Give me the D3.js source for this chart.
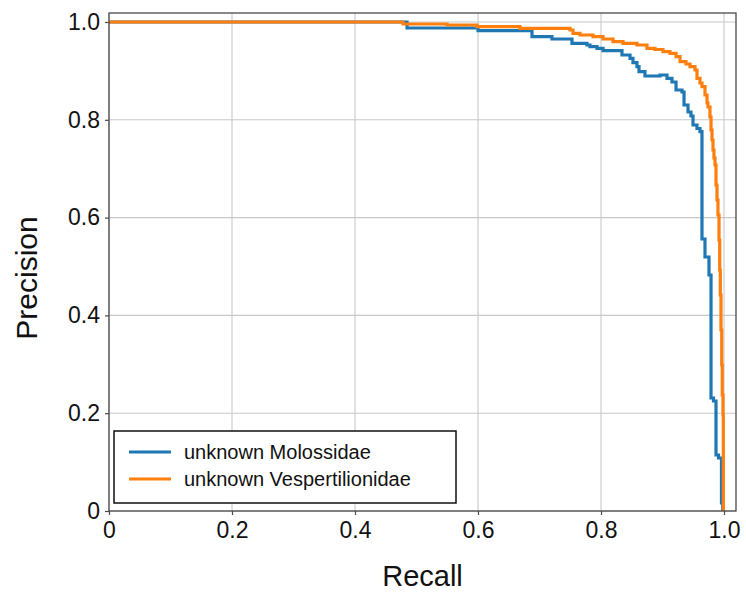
<!DOCTYPE html>
<html>
<head>
<meta charset="utf-8">
<script src="https://cdn.jsdelivr.net/npm/d3@7"></script>
<style>
  html, body { margin: 0; padding: 0; background: #fff; }
  svg { display: block; }
  text { font-family: "Liberation Sans", Arial, sans-serif; fill: #111; }
</style>
</head>
<body>
<div id="chart"></div>
<script>
// ---- Data ----
const seriesNames = ["unknown Molossidae", "unknown Vespertilionidae"];
const seriesColors = ["#1f77b4", "#ff7f0e"];

// step-after points: precision holds until the next recall value
const molossidaeRecall = [0, 0.4846, 0.6, 0.6878, 0.7203, 0.7528, 0.7772, 0.7821, 0.7935, 0.8033,
  0.8341, 0.8472, 0.8520, 0.8585, 0.8618, 0.8715, 0.8959, 0.9073, 0.9154, 0.9220, 0.9317, 0.9350,
  0.9415, 0.9463, 0.9496, 0.9561, 0.9610, 0.9642, 0.9691, 0.9756, 0.9789, 0.9829, 0.9870, 0.9911,
  0.9959, 0.9979];
const molossidaePrecision = [1.0, 0.9877, 0.9822, 0.9699, 0.9652, 0.9564, 0.9530, 0.9495, 0.9462, 0.9413,
  0.9325, 0.9258, 0.9168, 0.9086, 0.8984, 0.8896, 0.8916, 0.8849, 0.8773, 0.8609, 0.8569, 0.8303,
  0.8160, 0.8078, 0.7894, 0.7822, 0.7757, 0.5562, 0.5194, 0.4826, 0.2311, 0.2249, 0.1145, 0.1084,
  0.0164, 0.0];

const vespRecall = [0, 0.4780, 0.5496, 0.5984, 0.6683, 0.7496, 0.7545, 0.7659, 0.7870, 0.8033,
  0.8195, 0.8358, 0.8585, 0.8748, 0.8878, 0.9008, 0.9122, 0.9220, 0.9285, 0.9382, 0.9447, 0.9528,
  0.9561, 0.9610, 0.9642, 0.9691, 0.9724, 0.9740, 0.9772, 0.9789, 0.9805, 0.9821, 0.9837, 0.9854,
  0.9870, 0.9886, 0.9902, 0.9919, 0.9930, 0.9940, 0.9951, 0.9963, 0.9972, 0.9984, 0.9989];
const vespPrecision = [1.0, 0.9959, 0.9939, 0.9904, 0.9871, 0.9836, 0.9769, 0.9734, 0.9699, 0.9652,
  0.9597, 0.9564, 0.9530, 0.9462, 0.9438, 0.9393, 0.9360, 0.9290, 0.9188, 0.9141, 0.9086, 0.9018,
  0.8849, 0.8753, 0.8677, 0.8507, 0.8344, 0.8262, 0.8057, 0.7791, 0.7587, 0.7382, 0.7219, 0.7076,
  0.6667, 0.6360, 0.6053, 0.5542, 0.4928, 0.4417, 0.3701, 0.2986, 0.2372, 0.1963, 0.0];

const xTicks = [0, 0.2, 0.4, 0.6, 0.8, 1.0];
const xTickLabels = ["0", "0.2", "0.4", "0.6", "0.8", "1.0"];
const yTicks = [0, 0.2, 0.4, 0.6, 0.8, 1.0];
const yTickLabels = ["0", "0.2", "0.4", "0.6", "0.8", "1.0"];
const xLabel = "Recall";
const yLabel = "Precision";

// ---- Layout ----
const W = 746, H = 592;
const left = 109, bottom = 511;
const unitX = 615, unitY = 489;
const xMax = 1.0195, yMax = 1.0184;

const svg = d3.select("#chart").append("svg").attr("width", W).attr("height", H);

const x = d3.scaleLinear().domain([0, xMax]).range([left, left + unitX * xMax]);
const y = d3.scaleLinear().domain([0, yMax]).range([bottom, bottom - unitY * yMax]);

const [x0, x1] = x.range();
const [y0, y1] = y.range();

// grid
const grid = svg.append("g");
grid.selectAll(".gx").data(xTicks).join("line")
  .attr("x1", d => x(d)).attr("x2", d => x(d))
  .attr("y1", y0).attr("y2", y1)
  .attr("stroke", "#c8c8c8").attr("stroke-width", 1.1);
grid.selectAll(".gy").data(yTicks).join("line")
  .attr("x1", x0).attr("x2", x1)
  .attr("y1", d => y(d)).attr("y2", d => y(d))
  .attr("stroke", "#c8c8c8").attr("stroke-width", 1.1);

// series
const series = [
  { r: molossidaeRecall, p: molossidaePrecision },
  { r: vespRecall, p: vespPrecision }
];
const line = d3.line().x(d => x(d[0])).y(d => y(d[1])).curve(d3.curveStepAfter);
svg.append("clipPath").attr("id", "clip").append("rect")
  .attr("x", x0).attr("y", y1).attr("width", x1 - x0).attr("height", y0 - y1 + 2);
series.forEach((s, i) => {
  const pts = s.r.map((r, j) => [r, s.p[j]]);
  svg.append("path").datum(pts)
    .attr("d", line)
    .attr("fill", "none")
    .attr("stroke", seriesColors[i])
    .attr("stroke-width", 3.2)
    .attr("stroke-linejoin", "miter")
    .attr("clip-path", "url(#clip)");
});

// spines
svg.append("rect").attr("x", x0).attr("y", y1).attr("width", x1 - x0).attr("height", y0 - y1)
  .attr("fill", "none").attr("stroke", "#4a4a4a").attr("stroke-width", 1.3);

// axes
const xAxis = d3.axisBottom(x).tickValues(xTicks).tickFormat((d, i) => xTickLabels[i])
  .tickSizeInner(4).tickSizeOuter(0).tickPadding(7);
const gx = svg.append("g").attr("transform", `translate(0,${y0})`).call(xAxis);
gx.select(".domain").remove();
gx.selectAll("line").attr("stroke", "#4a4a4a").attr("stroke-width", 1.2);
gx.selectAll("text").attr("font-size", 23).attr("fill", "#111")
  .attr("font-family", "'Liberation Sans', Arial, sans-serif");

const yAxis = d3.axisLeft(y).tickValues(yTicks).tickFormat((d, i) => yTickLabels[i])
  .tickSizeInner(4).tickSizeOuter(0).tickPadding(5);
const gy = svg.append("g").attr("transform", `translate(${x0},0)`).call(yAxis);
gy.select(".domain").remove();
gy.selectAll("line").attr("stroke", "#4a4a4a").attr("stroke-width", 1.2);
gy.selectAll("text").attr("font-size", 23).attr("fill", "#111")
  .attr("font-family", "'Liberation Sans', Arial, sans-serif");

// axis labels
svg.append("text").attr("x", (x0 + x1) / 2).attr("y", 586)
  .attr("text-anchor", "middle").attr("font-size", 29).text(xLabel);
svg.append("text").attr("transform", `translate(37,${(y0 + y1) / 2 + 16}) rotate(-90)`)
  .attr("text-anchor", "middle").attr("font-size", 30).text(yLabel);

// legend
const lg = svg.append("g");
lg.append("rect").attr("x", 114).attr("y", 431).attr("width", 342).attr("height", 72)
  .attr("fill", "#fff").attr("stroke", "#111").attr("stroke-width", 1.5);
seriesNames.forEach((name, i) => {
  const ly = 452 + i * 27;
  lg.append("line").attr("x1", 129).attr("x2", 171).attr("y1", ly).attr("y2", ly)
    .attr("stroke", seriesColors[i]).attr("stroke-width", 3.2);
  lg.append("text").attr("x", 184).attr("y", ly + 7).attr("font-size", 20).text(name);
});
</script>
</body>
</html>
